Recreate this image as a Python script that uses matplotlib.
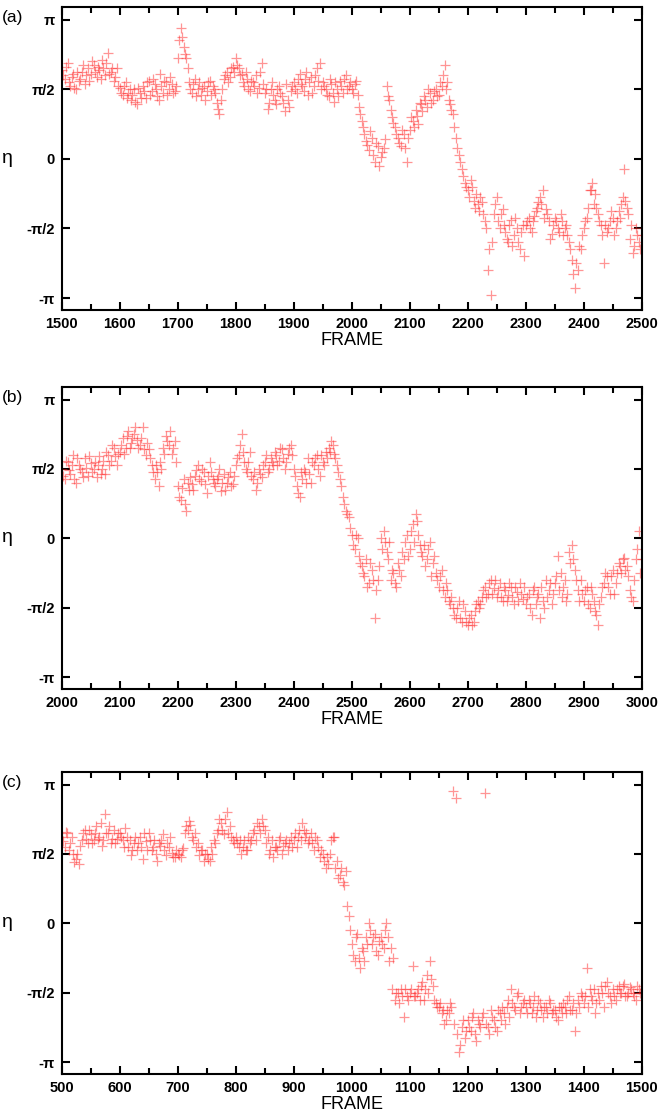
import numpy as np
import matplotlib
matplotlib.use("Agg")
import matplotlib.pyplot as plt

# eta values in units of pi/2.
# Two interleaved readings per panel: frames x0, x0+5, ... and x0+2, x0+7, ...
frames_a = np.arange(1500, 2501, 5)
eta_a = [
    1.28, 1.15, 1.38, 1.05, 1.22, 1.0, 1.12, 1.25, 1.08, 1.3, 1.22, 1.35, 1.18, 1.28, 1.42, 1.2, 1.52, 1.25, 1.12, 1.3,
    1.02, 0.92, 1.1, 0.95, 0.85, 1.0, 0.78, 0.95, 1.05, 0.88, 1.12, 0.98, 1.08, 0.9, 1.22, 0.95, 1.1, 1.0, 1.08, 0.98,
    1.45, 1.88, 1.6, 1.45, 1.1, 0.95, 1.15, 1.0, 0.92, 1.05, 0.98, 1.12, 1.05, 0.95, 0.72, 0.85, 1.15, 1.25, 1.18, 1.32,
    1.45, 1.3, 1.22, 1.05, 1.15, 0.98, 1.1, 1.2, 1.02, 1.38, 0.95, 0.72, 1.0, 0.92, 0.78, 1.05, 0.9, 0.68, 0.85, 0.98,
    1.1, 0.95, 1.22, 1.05, 1.15, 0.92, 1.18, 1.05, 1.3, 1.38, 1.1, 1.0, 0.9, 1.08, 0.82, 1.0, 1.12, 0.95, 1.2, 1.05,
    1.0, 1.08, 0.92, 0.65, 0.45, 0.25, 0.12, 0.3, -0.05, 0.18, 0.02, 0.15, 1.05, 0.85, 0.6, 0.45, 0.3, 0.18, 0.35, -0.05,
    0.42, 0.55, 0.7, 0.5, 0.78, 0.9, 0.75, 0.95, 0.85, 1.0, 0.92, 1.05, 1.35, 1.1, 0.78, 0.65, 0.3, 0.05, -0.15, -0.35,
    -0.45, -0.3, -0.6, -0.5, -0.75, -0.62, -0.9, -1.6, -1.95, -0.8, -0.55, -1.0, -0.72, -1.05, -1.2, -0.88, -1.1, -1.0, -1.3, -0.95,
    -0.95, -0.85, -1.05, -0.82, -0.7, -0.55, -0.45, -0.72, -0.9, -1.08, -0.85, -1.0, -0.8, -1.1, -0.95, -1.2, -1.45, -1.85, -1.6, -1.3,
    -1.0, -0.85, -0.45, -0.35, -0.5, -0.8, -0.95, -1.5, -1.05, -0.9, -0.85, -1.0, -0.75, -0.65, -0.15, -0.7, -1.15, -1.35, -1.0, -1.2,
    -1.1,
]
frames_a2 = np.arange(1502, 2498, 5)
eta_a2 = [
    1.2, 1.32, 1.1, 1.18, 1.02, 1.25, 1.15, 1.35, 1.2, 1.12, 1.4, 1.25, 1.32, 1.15, 1.3, 1.38, 1.22, 1.3, 1.18, 1.05,
    0.95, 1.05, 0.88, 1.0, 0.92, 0.82, 1.02, 0.88, 0.98, 1.1, 0.92, 1.15, 1.0, 0.85, 1.05, 1.12, 0.92, 1.18, 0.95, 1.05,
    1.7, 1.75, 1.5, 1.3, 1.0, 1.08, 0.9, 1.1, 1.02, 0.85, 1.1, 0.92, 1.0, 0.8, 0.65, 1.0, 1.2, 1.1, 1.3, 1.25,
    1.35, 1.2, 1.1, 1.25, 1.0, 1.12, 1.05, 0.95, 1.25, 1.08, 1.0, 0.8, 1.1, 0.85, 1.0, 0.95, 0.8, 1.08, 0.75, 1.05,
    1.0, 1.15, 1.08, 0.98, 1.25, 1.1, 0.95, 1.2, 1.12, 1.0, 1.05, 0.92, 1.15, 0.95, 1.1, 0.9, 1.05, 1.15, 1.0, 1.1,
    0.95, 1.12, 0.75, 0.55, 0.35, 0.2, 0.4, 0.05, 0.22, -0.1, 0.1, 0.28, 0.9, 0.7, 0.52, 0.35, 0.22, 0.42, 0.15, 0.3,
    0.6, 0.45, 0.62, 0.8, 0.68, 0.85, 1.0, 0.8, 0.98, 0.9, 1.1, 1.2, 1.0, 0.85, 0.7, 0.45, 0.15, -0.05, -0.25, -0.4,
    -0.55, -0.4, -0.7, -0.65, -0.55, -0.8, -1.0, -1.3, -1.2, -0.65, -0.9, -0.8, -0.95, -1.15, -0.95, -1.25, -0.85, -1.2, -1.05, -1.4,
    -0.9, -1.0, -0.9, -0.75, -0.62, -0.65, -0.85, -0.8, -1.15, -0.95, -0.9, -1.05, -0.9, -1.0, -1.1, -1.3, -1.65, -1.5, -1.25, -1.1,
    -0.9, -0.7, -0.45, -0.65, -0.7, -0.9, -1.1, -0.95, -1.0, -0.75, -1.1, -0.9, -0.85, -0.55, -0.6, -0.8, -0.95, -1.25, -1.1, -1.3,
]

frames_b = np.arange(2000, 3001, 5)
eta_b = [
    1.0, 0.85, 1.1, 0.92, 1.2, 0.8, 1.05, 0.95, 1.15, 0.9, 1.08, 1.0, 0.88, 1.18, 1.0, 0.92, 1.2, 1.12, 1.3, 1.05,
    1.25, 1.45, 1.3, 1.55, 1.38, 1.5, 1.42, 1.35, 1.6, 1.2, 1.28, 1.05, 0.85, 0.95, 1.1, 1.3, 1.48, 1.35, 1.22, 1.4,
    0.75, 0.55, 0.85, 0.4, 0.7, 0.78, 0.9, 1.05, 0.82, 0.95, 0.65, 1.1, 0.85, 0.75, 0.9, 0.68, 0.92, 0.8, 0.95, 0.78,
    1.05, 1.2, 1.5, 1.1, 0.95, 1.25, 0.85, 0.7, 1.0, 0.88, 1.1, 0.95, 1.15, 1.05, 1.2, 1.12, 1.28, 1.0, 1.22, 1.35,
    1.0, 0.75, 0.6, 0.85, 0.95, 1.15, 0.8, 1.05, 1.2, 0.9, 1.1, 1.25, 1.3, 1.4, 1.22, 1.05, 0.85, 0.6, 0.4, 0.3,
    0.05, -0.15, 0.0, -0.35, -0.5, -0.3, -0.65, -0.45, -1.15, -0.6, 0.0, 0.1, -0.2, -0.05, -0.45, -0.65, -0.35, -0.55, -0.3, 0.05,
    -0.15, 0.2, 0.35, 0.05, -0.2, -0.1, -0.3, -0.05, -0.35, -0.5, -0.7, -0.45, -0.85, -0.75, -0.95, -1.0, -1.15, -0.9, -1.2, -1.05,
    -1.25, -1.1, -1.2, -0.95, -1.0, -0.85, -0.7, -0.8, -0.6, -0.72, -0.85, -0.65, -0.9, -0.75, -0.82, -0.7, -0.95, -0.78, -0.65, -0.88,
    -0.95, -0.8, -1.1, -0.7, -0.85, -1.15, -0.9, -0.6, -0.75, -0.95, -0.65, -0.25, -0.5, -0.7, -0.9, -0.2, -0.1, -0.45, -0.75, -0.6,
    -0.9, -0.7, -1.0, -0.8, -1.05, -1.25, -0.85, -0.65, -0.55, -0.8, -0.45, -0.65, -0.35, -0.5, -0.28, -0.4, -0.75, -0.9, -0.3, 0.1,
    -0.3,
]
frames_b2 = np.arange(2002, 2998, 5)
eta_b2 = [
    0.9, 1.12, 0.98, 1.05, 0.85, 1.15, 1.0, 0.88, 1.02, 1.18, 0.95, 1.1, 1.05, 0.92, 1.12, 1.25, 1.05, 1.35, 1.18, 1.22,
    1.35, 1.22, 1.48, 1.3, 1.45, 1.6, 1.3, 1.45, 1.28, 1.38, 1.15, 0.95, 1.05, 0.75, 1.0, 1.22, 1.4, 1.55, 1.3, 1.1,
    0.6, 0.72, 0.5, 0.8, 0.88, 0.7, 0.98, 0.85, 1.0, 0.78, 0.9, 0.95, 0.8, 0.85, 1.0, 0.8, 0.7, 0.88, 0.75, 0.9,
    1.15, 1.35, 1.25, 1.0, 1.1, 0.9, 0.95, 0.8, 0.92, 1.05, 1.2, 1.0, 1.1, 1.25, 1.05, 1.3, 1.15, 1.1, 1.3, 1.2,
    0.9, 0.65, 0.95, 1.0, 0.8, 0.92, 1.1, 1.15, 1.0, 1.2, 1.05, 1.15, 1.25, 1.35, 1.15, 0.95, 0.75, 0.5, 0.35, 0.15,
    -0.1, 0.05, -0.25, -0.4, -0.55, -0.7, -0.35, -0.6, -0.75, -0.4, -0.15, -0.05, -0.3, -0.6, -0.5, -0.7, -0.45, -0.2, -0.05, -0.25,
    0.1, -0.05, 0.25, -0.1, -0.25, -0.4, -0.15, -0.55, -0.25, -0.6, -0.55, -0.75, -0.65, -0.9, -0.85, -1.1, -1.0, -1.15, -0.95, -1.2,
    -1.15, -1.25, -1.05, -0.9, -0.95, -0.75, -0.85, -0.65, -0.8, -0.6, -0.75, -0.85, -0.7, -0.9, -0.65, -0.85, -0.7, -0.9, -0.8, -0.7,
    -0.85, -1.0, -0.75, -0.95, -0.8, -0.7, -1.0, -0.85, -0.65, -0.8, -0.55, -0.75, -0.85, -0.6, -0.8, -0.35, -0.3, -0.6, -0.9, -0.8,
    -0.75, -0.95, -0.7, -0.9, -1.1, -0.95, -0.7, -0.5, -0.7, -0.55, -0.8, -0.5, -0.4, -0.3, -0.45, -0.55, -0.85, -0.6, -0.15, -0.5,
]

frames_c = np.arange(500, 1501, 5)
eta_c = [
    1.25, 1.1, 1.3, 1.15, 1.0, 0.92, 0.85, 1.2, 1.35, 1.15, 1.28, 1.2, 1.4, 1.25, 1.12, 1.58, 1.3, 1.15, 1.35, 1.22,
    1.3, 1.2, 1.38, 1.1, 0.98, 1.15, 1.05, 1.25, 0.92, 1.18, 1.3, 1.05, 1.2, 0.9, 1.12, 1.28, 0.98, 1.1, 1.02, 0.95,
    1.0, 0.95, 1.08, 1.4, 1.48, 1.25, 1.3, 1.15, 1.05, 0.9, 1.0, 0.9, 1.0, 1.15, 1.35, 1.45, 1.28, 1.6, 1.4, 1.2,
    1.25, 1.1, 1.0, 1.2, 1.05, 1.15, 1.3, 1.2, 1.4, 1.5, 1.35, 1.25, 1.05, 0.95, 1.1, 1.2, 1.0, 1.15, 1.05, 1.25,
    1.2, 1.1, 1.35, 1.45, 1.25, 1.15, 1.3, 1.05, 1.2, 0.95, 1.0, 0.8, 0.85, 1.2, 1.25, 0.9, 0.7, 0.6, 0.75, 0.1,
    -0.3, -0.55, -0.15, -0.65, -0.4, -0.2, 0.0, -0.3, -0.15, -0.45, -0.2, -0.35, 0.0, -0.55, -0.95, -1.1, -1.0, -0.95, -1.35, -1.05,
    -1.0, -0.62, -1.05, -0.95, -0.9, -1.1, -0.75, -0.55, -0.9, -1.15, -1.2, -1.3, -1.45, -1.25, -1.15, 1.9, 1.8, -1.85, -1.5, -1.65,
    -1.4, -1.55, -1.3, -1.7, -1.45, -1.35, 1.88, -1.5, -1.25, -1.4, -1.55, -1.3, -1.2, -1.45, -1.1, -0.95, -1.2, -1.05, -1.3, -1.15,
    -1.2, -1.1, -1.3, -1.05, -1.25, -1.15, -1.35, -1.2, -1.1, -1.3, -1.25, -1.4, -1.2, -1.15, -1.3, -1.05, -1.25, -1.55, -1.1, -1.0,
    -1.15, -0.65, -0.95, -1.1, -1.3, -1.0, -0.9, -1.2, -0.85, -1.05, -0.95, -1.1, -0.9, -1.0, -0.88, -1.05, -0.92, -1.0, -1.1, -0.95,
    -1.0,
]
frames_c2 = np.arange(502, 1498, 5)
eta_c2 = [
    1.18, 1.32, 1.05, 1.25, 0.88, 1.0, 1.12, 1.3, 1.22, 1.35, 1.15, 1.3, 1.22, 1.45, 1.2, 1.3, 1.4, 1.22, 1.15, 1.3,
    1.25, 1.1, 1.25, 1.2, 1.05, 1.25, 1.15, 1.1, 1.3, 1.05, 1.2, 1.1, 1.0, 1.15, 1.2, 1.05, 1.15, 1.25, 0.95, 1.05,
    0.98, 1.05, 1.3, 1.35, 1.42, 1.2, 1.1, 0.98, 1.05, 1.0, 0.92, 1.1, 1.2, 1.3, 1.5, 1.35, 1.5, 1.3, 1.25, 1.15,
    1.15, 1.2, 1.1, 1.05, 1.25, 1.2, 1.35, 1.45, 1.3, 1.4, 1.15, 1.0, 1.2, 1.1, 1.05, 1.25, 1.12, 1.2, 1.15, 1.1,
    1.3, 1.25, 1.2, 1.35, 1.3, 1.2, 1.15, 1.25, 1.1, 1.05, 0.9, 0.95, 1.0, 1.25, 0.8, 0.65, 0.8, 0.55, 0.25, -0.1,
    -0.45, -0.2, -0.5, -0.35, -0.55, -0.3, -0.1, -0.2, -0.4, -0.25, -0.3, -0.1, -0.2, -0.35, -0.5, -1.0, -1.15, -1.05, -0.95, -1.1,
    -0.95, -1.05, -1.0, -1.1, -0.85, -0.95, -1.0, -0.8, -1.1, -1.2, -1.15, -1.25, -1.4, -1.3, -1.2, -1.45, -1.6, -1.75, -1.4, -1.55,
    -1.5, -1.35, -1.6, -1.4, -1.5, -1.3, -1.45, -1.6, -1.35, -1.5, -1.25, -1.4, -1.3, -1.2, -1.35, -1.15, -1.25, -1.0, -1.2, -1.1,
    -1.3, -1.15, -1.2, -1.35, -1.1, -1.25, -1.2, -1.3, -1.15, -1.25, -1.35, -1.2, -1.3, -1.2, -1.1, -1.25, -1.15, -1.3, -1.2, -1.05,
    -1.05, -1.2, -1.05, -0.95, -1.15, -1.1, -1.0, -0.9, -1.0, -1.15, -1.05, -0.95, -1.0, -0.9, -1.05, -1.0, -0.95, -1.05, -0.9, -1.0,
]

panel_labels = ["(a)", "(b)", "(c)"]
ytick_labels = ["-π", "-π/2", "0", "π/2", "π"]
xlims = [(1500, 2500), (2000, 3000), (500, 1500)]

plt.rcParams["font.family"] = ["Liberation Sans", "DejaVu Sans"]

fig = plt.figure(figsize=(6.63, 11.18), dpi=100)
W, H = 663.0, 1118.0
boxes = [(61.7, 6.7, 641.7, 310.0), (61.7, 386.7, 641.7, 689.0), (61.7, 771.7, 641.7, 1074.0)]
data = [
    [(frames_a, eta_a), (frames_a2, eta_a2)],
    [(frames_b, eta_b), (frames_b2, eta_b2)],
    [(frames_c, eta_c), (frames_c2, eta_c2)],
]

for i, (box, series) in enumerate(zip(boxes, data)):
    l, t, r, b = box
    ax = fig.add_axes([l / W, 1 - b / H, (r - l) / W, (b - t) / H])
    for fr, eta in series:
        y = np.asarray(eta) * np.pi / 2
        ax.plot(fr, y, linestyle="none", marker="+", ms=7, mew=0.9,
                color="#ff2a2a", alpha=0.5)
    ax.set_xlim(*xlims[i])
    ax.set_ylim(-np.pi - 0.27, np.pi + 0.29)
    ax.set_yticks([-np.pi, -np.pi / 2, 0, np.pi / 2, np.pi])
    ax.set_yticklabels(ytick_labels)
    x0 = xlims[i][0]
    ax.set_xticks(np.arange(x0, x0 + 1001, 100))
    ax.set_xticks(np.arange(x0 + 50, x0 + 1000, 100), minor=True)
    ax.tick_params(which="both", direction="in", top=True, right=True,
                   width=1.5, labelsize=10.5, pad=5)
    ax.tick_params(which="major", length=6)
    ax.tick_params(which="minor", length=4)
    for lab in ax.get_xticklabels() + ax.get_yticklabels():
        lab.set_fontweight("bold")
    for sp in ax.spines.values():
        sp.set_linewidth(1.5)
    ax.set_xlabel("FRAME", fontsize=13, labelpad=1)
    ax.text(-0.103, 0.5, "η", transform=ax.transAxes, fontsize=14,
            ha="left", va="center")
    fig.text(2 / W, 1 - (t + 11) / H, panel_labels[i], fontsize=12.5,
             ha="left", va="center")

fig.savefig("out.png", dpi=100)
